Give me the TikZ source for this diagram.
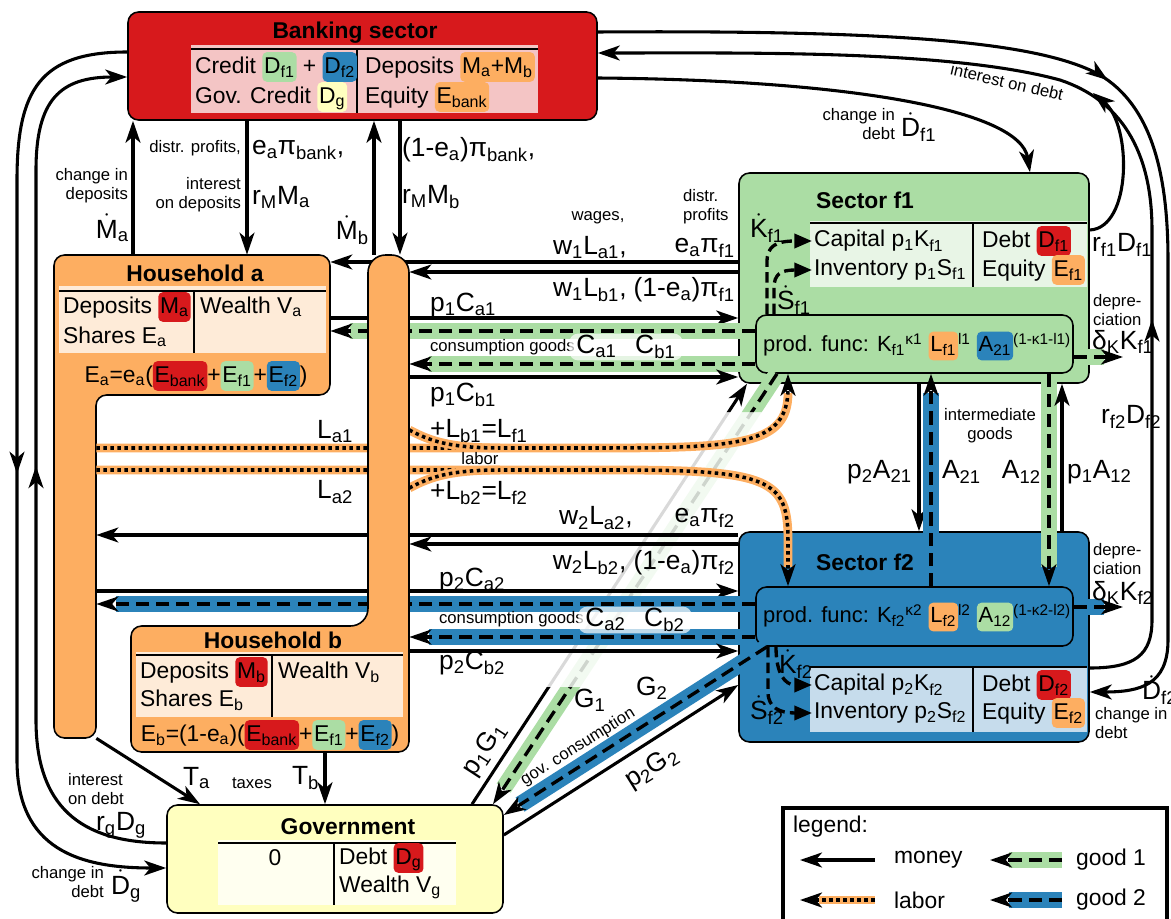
\documentclass[tikz,border=0pt]{standalone}
\usepackage{fontspec}
\setmainfont{Liberation Sans}
\usetikzlibrary{arrows.meta,fit,decorations.markings}

\definecolor{bankred}{HTML}{D7191C}
\definecolor{bankpale}{HTML}{F4C5C5}
\definecolor{hhorange}{HTML}{FDAE61}
\definecolor{hhpale}{HTML}{FEEBD8}
\definecolor{fgreen}{HTML}{ABDDA4}
\definecolor{fgreenpale}{HTML}{E8F5E6}
\definecolor{fblue}{HTML}{2B83BA}
\definecolor{fbluepale}{HTML}{C6DCEC}
\definecolor{govyellow}{HTML}{FFFFBF}
\definecolor{govpale}{HTML}{FFFFF0}

\newcommand\sub[1]{\textsubscript{#1}}
\newcommand\sups[1]{\textsuperscript{#1}}
\newcommand\dt[1]{$\dot{\mbox{#1}}$}
\newcommand\hl[2]{\tikz[baseline=(hl.base)]\node[fill=#1,draw=none,rounded corners=2.5pt,inner xsep=1pt,inner ysep=1pt,outer sep=0pt,text height=0.84em,text depth=0.3em,anchor=center] (hl) {#2};}

\tikzset{
  sector/.style={inner sep=0pt, draw=black, line width=0.9pt, rounded corners=6pt},
  flowtip/.style={-{Stealth[length=12.5pt,width=8.5pt,inset=3.5pt]}},
  money/.style={line width=1.75pt, flowtip},
  goodone/.style={line width=1.9pt, dash pattern=on 7.5pt off 4pt, flowtip,
    preaction={draw=fgreen, line width=9.5pt, solid, -, shorten >=11pt}},
  goodtwo/.style={line width=1.9pt, dash pattern=on 7.5pt off 4pt, flowtip,
    preaction={draw=fblue, line width=9.5pt, solid, -, shorten >=11pt}},
  labor/.style={line width=2pt, dash pattern=on 2pt off 2pt, flowtip,
    preaction={draw=hhorange, line width=5pt, solid, -, shorten >=11pt}},
  laborline/.style={line width=2pt, dash pattern=on 2pt off 2pt,
    preaction={draw=hhorange, line width=5pt, solid}},
  kdot/.style={line width=1.9pt, dash pattern=on 6pt off 3pt, -{Triangle[length=10pt,width=8pt]}},
  midarrow/.style={postaction={decorate, decoration={markings,
    mark=at position #1 with {\arrow{Stealth[length=12.5pt,width=8.5pt,inset=3.5pt]}}}}},
  lbl/.style={font=\fontsize{15}{17}\selectfont, inner sep=1pt},
  cell/.style={font=\fontsize{13}{15}\selectfont, inner sep=1pt, anchor=west},
  pftxt/.style={font=\fontsize{12.5}{14}\selectfont, inner sep=1pt, anchor=west},
  smalltxt/.style={font=\fontsize{9.5}{11}\selectfont, inner sep=1pt},
  boxtitle/.style={font=\fontsize{13}{15}\selectfont\bfseries, inner sep=1pt}
}

\newcommand\gonepaths{%
  \draw[goodone] (f1pf.south -| 777,0) -- (gov.north -| 493,0);
  \draw[money] (gov.north -| 472,0) -- (f1.south -| 747,0);
}

\begin{document}
\begin{tikzpicture}[x=0.02cm, y=-0.02cm]
  \useasboundingbox (0,0) rectangle (1171,919);

  % Sectors
  \node[sector, fill=bankred, fit={(128,12) (597,120)}] (bank) {};
  \node[sector, fill=fgreen, fit={(739,173) (1089,383)}] (f1) {};
  \node[sector, fill=fblue, fit={(739,532) (1089,742)}] (f2) {};
  \node[sector, fill=govyellow, fit={(167,805) (503,913)}] (gov) {};
  \node[sector, fill=fgreen, fit={(756,315) (1073,373)}] (f1pf) {};
  \node[sector, fill=fblue, fit={(756,587) (1073,646)}] (f2pf) {};

  % Households
  \filldraw[fill=hhorange, line width=0.9pt, rounded corners=6pt]
    (54,255) -- (330,255) -- (330,395) -- (96,395) -- (96,738) -- (54,738) -- cycle;
  \node[inner sep=0pt, fit={(54,255) (330,395)}] (hha) {};
  \node[inner sep=0pt, fit={(54,395) (96,738)}] (hhabar) {};
  \node[inner sep=0pt, fit={(368,255) (409,626)}] (hhbbar) {};
  \node[inner sep=0pt, fit={(131,626) (409,752)}] (hhb) {};

  % Bank and government loops
  \draw[money, midarrow=280pt] (bank.west |- 0,52) .. controls (40,52) and (17,90) .. (17,180)
    -- (17,760) .. controls (17,850) and (80,868) .. (gov.west |- 0,868);
  \draw[money, midarrow=262pt] (gov.west |- 0,843) .. controls (90,843) and (36,815) .. (36,720)
    -- (36,170) .. controls (36,100) and (60,77) .. (bank.west |- 0,77);
  \draw[money, midarrow=294pt] (bank.east |- 0,32) .. controls (900,30) and (1040,42) .. (1100,75)
    .. controls (1150,105) and (1168,170) .. (1168,260) -- (1168,640)
    .. controls (1168,685) and (1140,692) .. (f2.east |- 0,692);
  \draw[money, midarrow=223pt] (f2.east |- 0,668) .. controls (1135,668) and (1152,655) .. (1152,620)
    -- (1152,230) .. controls (1152,150) and (1120,100) .. (1060,80)
    .. controls (950,50) and (750,53) .. (bank.east |- 0,53);
  \coordinate (fonemerge) at (1093,93);
  \draw[money] (f1.east |- 0,230) .. controls (1132,228) and (1132,125) .. (fonemerge);
  \draw[money] (bank.east |- 0,78) .. controls (850,80) and (1020,110) .. (f1.north -| 1030,0);

  % Bank and households
  \draw[money] (hha.north -| 133,0) -- (bank.south -| 133,0);
  \draw[money] (bank.south -| 247,0) -- (hha.north -| 247,0);
  \draw[money] (hhbbar.north -| 374,0) -- (bank.south -| 374,0);
  \draw[money] (bank.south -| 400,0) -- (hhbbar.north -| 400,0);

  % Government
  \draw[money] (hhabar.south east) -- (gov.north -| 200,0);
  \draw[money] (hhb.south -| 325,0) -- (gov.north -| 325,0);
  \draw[goodtwo] (f2pf.south -| 767,0) -- (gov.east |- 0,815);
  \draw[money] (gov.east |- 0,835) -- (f2.west |- 0,685);
  \begin{scope}
    \clip (0,0) rectangle (1171,412) (0,687) rectangle (1171,919);
    \gonepaths
  \end{scope}
  \begin{scope}[opacity=0.15]
    \clip (0,412) rectangle (1171,687);
    \gonepaths
  \end{scope}

  % Sector f1 and households
  \draw[money] (f1.west |- 0,262) -- (hha.east |- 0,262);
  \draw[money] (f1.west |- 0,272) -- (hhbbar.east |- 0,272);
  \draw[money] (hha.east |- 0,318) -- (f1.west |- 0,318);
  \draw[goodone] (f1pf.west |- 0,331) -- (hha.east |- 0,331);
  \draw[goodone] (f1pf.west |- 0,364) -- (hhbbar.east |- 0,364);
  \draw[money] (hhbbar.east |- 0,377) -- (f1.west |- 0,377);

  % Labor
  \coordinate (lbonejoin) at (500,448);
  \coordinate (lbtwojoin) at (500,470);
  \draw[labor] (hhabar.east |- 0,448) -- (600,448) .. controls (740,448) and (788,445) .. (f1pf.south -| 788,0);
  \draw[laborline] (hhbbar.east |- 0,430) .. controls (430,441) and (450,448) .. (lbonejoin);
  \draw[labor] (hhabar.east |- 0,470) -- (620,470) .. controls (770,470) and (788,480) .. (788,540)
    -- (f2pf.north -| 788,0);
  \draw[laborline] (hhbbar.east |- 0,488) .. controls (430,477) and (450,470) .. (lbtwojoin);

  % Sector f2 and households
  \draw[money] (f2.west |- 0,535) -- (hhabar.east |- 0,535);
  \draw[money] (f2.west |- 0,544) -- (hhbbar.east |- 0,544);
  \draw[money] (hhabar.east |- 0,591) -- (f2.west |- 0,591);
  \draw[goodtwo] (f2pf.west |- 0,604) -- (hhabar.east |- 0,604);
  \draw[goodtwo] (f2pf.west |- 0,637) -- (hhb.east |- 0,637);
  \draw[money] (hhb.east |- 0,651) -- (f2.west |- 0,651);

  % Intermediate goods
  \draw[money] (f1.south -| 919,0) -- (f2.north -| 919,0);
  \draw[goodtwo] (f2pf.north -| 931,0) -- (f1pf.south -| 931,0);
  \draw[goodone] (f1pf.south -| 1049,0) -- (f2pf.north -| 1049,0);
  \draw[money] (f2.north -| 1062,0) -- (f1.south -| 1062,0);

  % Depreciation
  \coordinate (depone) at (1123,357);
  \coordinate (deptwo) at (1123,607);
  \draw[goodone] (f1pf.east |- 0,357) -- (depone);
  \draw[goodtwo] (f2pf.east |- 0,607) -- (deptwo);

  % Household b on top
  \filldraw[fill=hhorange, line width=0.9pt] (131,690) [rounded corners=6pt] -- (131,626)
    [rounded corners=10pt] -- (368,626) -- (368,255) -- (409,255) -- (409,500)
    [rounded corners=6pt] -- (409,752) -- (131,752) -- cycle;

  % Balance sheets
  \node[boxtitle] (banktitle) at (355,33) {Banking sector};
  \fill[bankpale] (191,45) rectangle (538,113);
  \draw[line width=1.2pt] (191,49) -- (538,49);
  \draw[line width=0.9pt] (357,49) -- (357,113);
  \node[cell] (bankcredit) at (193,67) {Credit \hl{fgreen}{D\sub{f1}} + \hl{fblue}{D\sub{f2}}};
  \node[cell] (bankgov) at (193,97) {Gov. Credit \hl{govyellow}{D\sub{g}}};
  \node[cell] (bankdep) at (363,67) {Deposits \hl{hhorange}{M\sub{a}+M\sub{b}}};
  \node[cell] (bankeq) at (363,97) {Equity \hl{hhorange}{E\sub{bank}}};

  \node[boxtitle] (hhatitle) at (195,273) {Household a};
  \fill[hhpale] (59,286) rectangle (326,353);
  \draw[line width=1.2pt] (59,291) -- (326,291);
  \draw[line width=0.9pt] (194,291) -- (194,353);
  \node[cell] (hhadep) at (61,307) {Deposits \hl{bankred}{M\sub{a}}};
  \node[cell] (hhashares) at (61,337) {Shares E\sub{a}};
  \node[cell] (hhawealth) at (198,307) {Wealth V\sub{a}};
  \node[cell, anchor=center] (hhaeq) at (196,376)
    {E\sub{a}=e\sub{a}(\hl{bankred}{E\sub{bank}}+\hl{fgreen}{E\sub{f1}}+\hl{fblue}{E\sub{f2}})};

  \node[boxtitle] (hhbtitle) at (273,640) {Household b};
  \fill[hhpale] (136,652) rectangle (403,717);
  \draw[line width=1.2pt] (136,655) -- (403,655);
  \draw[line width=0.9pt] (272,655) -- (272,717);
  \node[cell] (hhbdep) at (138,672) {Deposits \hl{bankred}{M\sub{b}}};
  \node[cell] (hhbshares) at (138,700) {Shares E\sub{b}};
  \node[cell] (hhbwealth) at (276,672) {Wealth V\sub{b}};
  \node[cell, anchor=center] (hhbeq) at (270,735)
    {E\sub{b}=(1-e\sub{a})(\hl{bankred}{E\sub{bank}}+\hl{fgreen}{E\sub{f1}}+\hl{fblue}{E\sub{f2}})};

  \node[boxtitle] (fonetitle) at (865,200) {Sector f1};
  \fill[fgreenpale] (810,221) rectangle (1087,287);
  \draw[line width=1.2pt] (810,223) -- (1087,223);
  \draw[line width=0.9pt] (973,223) -- (973,287);
  \node[cell] (f1cap) at (812,241) {Capital p\sub{1}K\sub{f1}};
  \node[cell] (f1inv) at (812,270) {Inventory p\sub{1}S\sub{f1}};
  \node[cell] (f1debt) at (980,241) {Debt \hl{bankred}{D\sub{f1}}};
  \node[cell] (f1eq) at (980,270) {Equity \hl{hhorange}{E\sub{f1}}};
  \node[pftxt] (f1func) at (761,346)
    {prod. func: K\sub{f1}\sups{κ1} \hl{hhorange}{L\sub{f1}}\sups{l1} \hl{fblue}{A\sub{21}}\sups{(1-κ1-l1)}};

  \node[boxtitle] (ftwotitle) at (865,562) {Sector f2};
  \fill[fbluepale] (810,666) rectangle (1087,732);
  \draw[line width=1.2pt] (810,667) -- (1087,667);
  \draw[line width=0.9pt] (973,667) -- (973,732);
  \node[cell] (f2cap) at (812,685) {Capital p\sub{2}K\sub{f2}};
  \node[cell] (f2inv) at (812,713) {Inventory p\sub{2}S\sub{f2}};
  \node[cell] (f2debt) at (980,685) {Debt \hl{bankred}{D\sub{f2}}};
  \node[cell] (f2eq) at (980,713) {Equity \hl{hhorange}{E\sub{f2}}};
  \node[pftxt] (f2func) at (761,617)
    {prod. func: K\sub{f2}\sups{κ2} \hl{hhorange}{L\sub{f2}}\sups{l2} \hl{fgreen}{A\sub{12}}\sups{(1-κ2-l2)}};

  \node[boxtitle] (govtitle) at (348,827) {Government};
  \fill[govpale] (218,840) rectangle (456,905);
  \draw[line width=1.2pt] (218,843) -- (456,843);
  \draw[line width=0.9pt] (334,843) -- (334,905);
  \node[cell, anchor=center] (govzero) at (275,858) {0};
  \node[cell] (govdebt) at (337,858) {Debt \hl{bankred}{D\sub{g}}};
  \node[cell] (govwealth) at (337,887) {Wealth V\sub{g}};

  % Investment inside the firms
  \draw[kdot] (f1pf.north -| 767,0) -- (767,262) .. controls (767,246) and (776,241) .. (f1cap.west);
  \draw[kdot] (f1pf.north -| 774,0) -- (774,288) .. controls (774,274) and (781,270) .. (f1inv.west);
  \draw[kdot] (f2pf.south -| 776,0) .. controls (776,674) and (785,685) .. (f2cap.west);
  \draw[kdot] (f2pf.south -| 768,0) -- (768,692) .. controls (768,708) and (780,713) .. (f2inv.west);
  \node[lbl, anchor=west] (kfone) at (748,228) {\dt{K}\sub{f1}};
  \node[lbl, anchor=west] (sfone) at (775,300) {\dt{S}\sub{f1}};
  \node[lbl, anchor=west] (kftwo) at (777,664) {\dt{K}\sub{f2}};
  \node[lbl, anchor=west] (sftwo) at (748,710) {\dt{S}\sub{f2}};

  % Labels: bank
  \node[smalltxt, anchor=east] (distrbank) at (243,148) {distr. profits,};
  \node[lbl, anchor=west] (eabank) at (250,150) {e\sub{a}π\sub{bank},};
  \node[smalltxt, anchor=east, align=right] (intdep) at (243,195) {interest\\on deposits};
  \node[lbl, anchor=west] (rmma) at (250,197) {r\sub{M}M\sub{a}};
  \node[smalltxt, anchor=east, align=right] (chdep) at (130,186) {change in\\deposits};
  \node[lbl, anchor=east] (mdota) at (131,228) {\dt{M}\sub{a}};
  \node[lbl, anchor=east] (mdotb) at (371,230) {\dt{M}\sub{b}};
  \node[lbl, anchor=west] (eabankb) at (400,150) {(1-e\sub{a})π\sub{bank},};
  \node[lbl, anchor=west] (rmmb) at (400,197) {r\sub{M}M\sub{b}};
  \node[smalltxt, anchor=east, align=right] (chdebtone) at (897,124) {change in\\debt};
  \node[lbl, anchor=west] (ddotfone) at (899,127) {\dt{D}\sub{f1}};
  \node[smalltxt, rotate=-13] (intdebt) at (1007,82) {interest on debt};
  \node[lbl, anchor=west] (rfone) at (1090,245) {r\sub{f1}D\sub{f1}};
  \node[lbl, anchor=west] (rftwo) at (1099,417) {r\sub{f2}D\sub{f2}};
  \node[lbl, anchor=west] (ddotftwo) at (1140,690) {\dt{D}\sub{f2}};
  \node[smalltxt, anchor=west, align=left] (chdebttwo) at (1093,723) {change in\\debt};

  % Labels: f1 flows
  \node[smalltxt] (wagesone) at (598,218) {wages,};
  \node[smalltxt, anchor=west, align=left] (distrfone) at (681,207) {distr.\\profits};
  \node[lbl, anchor=west] (wlaone) at (551,248) {w\sub{1}L\sub{a1},};
  \node[lbl, anchor=east] (eafone) at (737,248) {e\sub{a}π\sub{f1}};
  \node[lbl, anchor=west] (wlbone) at (551,290) {w\sub{1}L\sub{b1},};
  \node[lbl, anchor=east] (ebfone) at (737,290) {(1-e\sub{a})π\sub{f1}};
  \node[lbl, anchor=west] (pcaone) at (428,305) {p\sub{1}C\sub{a1}};
  \node[smalltxt, anchor=west] (consone) at (428,347) {consumption goods};
  \node[lbl, fill=white, fill opacity=0.7, text opacity=1, rounded corners=5pt, inner xsep=4pt] (cone) at (626,347)
    {C\sub{a1}\hspace{0.7em}C\sub{b1}};
  \node[lbl, anchor=west] (pcbone) at (428,395) {p\sub{1}C\sub{b1}};

  % Labels: labor
  \node[lbl, anchor=west] (laone) at (315,432) {L\sub{a1}};
  \node[lbl, anchor=west] (lbone) at (428,431) {+L\sub{b1}=L\sub{f1}};
  \node[smalltxt] (laborlbl) at (480,459) {labor};
  \node[lbl, anchor=west] (latwo) at (315,492) {L\sub{a2}};
  \node[lbl, anchor=west] (lbtwo) at (428,493) {+L\sub{b2}=L\sub{f2}};

  % Labels: f2 flows
  \node[lbl, anchor=west] (wlatwo) at (557,518) {w\sub{2}L\sub{a2},};
  \node[lbl, anchor=east] (eaftwo) at (737,518) {e\sub{a}π\sub{f2}};
  \node[lbl, anchor=east] (wlbtwo) at (737,563) {w\sub{2}L\sub{b2}, (1-e\sub{a})π\sub{f2}};
  \node[lbl, anchor=west] (pcatwo) at (437,580) {p\sub{2}C\sub{a2}};
  \node[smalltxt, anchor=west] (constwo) at (437,619) {consumption goods};
  \node[lbl, fill=white, fill opacity=0.7, text opacity=1, rounded corners=5pt, inner xsep=4pt] (ctwo) at (635,620)
    {C\sub{a2}\hspace{0.7em}C\sub{b2}};
  \node[lbl, anchor=west] (pcbtwo) at (437,663) {p\sub{2}C\sub{b2}};

  % Labels: intermediate goods and depreciation
  \node[lbl, anchor=east] (patwoone) at (914,472) {p\sub{2}A\sub{21}};
  \node[lbl, anchor=west] (atwoone) at (940,472) {A\sub{21}};
  \node[lbl, anchor=east] (aonetwo) at (1043,472) {A\sub{12}};
  \node[lbl, anchor=west] (paonetwo) at (1065,472) {p\sub{1}A\sub{12}};
  \node[smalltxt, align=center] (intgoods) at (990,426) {intermediate\\goods};
  \node[smalltxt, anchor=west, align=left] (depone) at (1091,310) {depre-\\ciation};
  \node[lbl, anchor=west] (dkone) at (1090,342) {δ\sub{K}K\sub{f1}};
  \node[smalltxt, anchor=west, align=left] (deptwo) at (1091,559) {depre-\\ciation};
  \node[lbl, anchor=west] (dktwo) at (1090,593) {δ\sub{K}K\sub{f2}};

  % Labels: government
  \node[lbl, anchor=west] (gone) at (572,700) {G\sub{1}};
  \node[lbl, rotate=57] (pgone) at (485,750) {p\sub{1}G\sub{1}};
  \node[lbl, anchor=west] (gtwo) at (634,688) {G\sub{2}};
  \node[smalltxt, rotate=32] (govcons) at (578,747) {gov. consumption};
  \node[lbl, rotate=32] (pgtwo) at (652,768) {p\sub{2}G\sub{2}};
  \node[lbl, anchor=west] (ta) at (181,778) {T\sub{a}};
  \node[smalltxt] (taxes) at (252,783) {taxes};
  \node[lbl, anchor=west] (tb) at (290,778) {T\sub{b}};
  \node[smalltxt, anchor=west, align=left] (intdebtg) at (66,789) {interest\\on debt};
  \node[lbl, anchor=west] (rgdg) at (94,825) {r\sub{g}D\sub{g}};
  \node[smalltxt, anchor=east, align=right] (chdebtg) at (106,882) {change in\\debt};
  \node[lbl, anchor=west] (ddotg) at (109,886) {\dt{D}\sub{g}};

  % Legend
  \node[inner sep=0pt, draw, line width=2.2pt, fit={(783,808) (1167,935)}] (legend) {};
  \node[cell] (legendtitle) at (791,827) {legend:};
  \coordinate (lgmoneyA) at (875,860);
  \coordinate (lgmoneyB) at (800,860);
  \coordinate (lglaborA) at (875,900);
  \coordinate (lglaborB) at (800,900);
  \coordinate (lgoneA) at (1062,860);
  \coordinate (lgoneB) at (990,860);
  \coordinate (lgtwoA) at (1062,900);
  \coordinate (lgtwoB) at (990,900);
  \draw[money] (lgmoneyA) -- (lgmoneyB);
  \draw[labor] (lglaborA) -- (lglaborB);
  \draw[goodone] (lgoneA) -- (lgoneB);
  \draw[goodtwo] (lgtwoA) -- (lgtwoB);
  \node[cell] (lgmoney) at (892,860) {money};
  \node[cell] (lglabor) at (892,900) {labor};
  \node[cell] (lgone) at (1074,860) {good 1};
  \node[cell] (lgtwo) at (1074,900) {good 2};
\end{tikzpicture}
\end{document}
